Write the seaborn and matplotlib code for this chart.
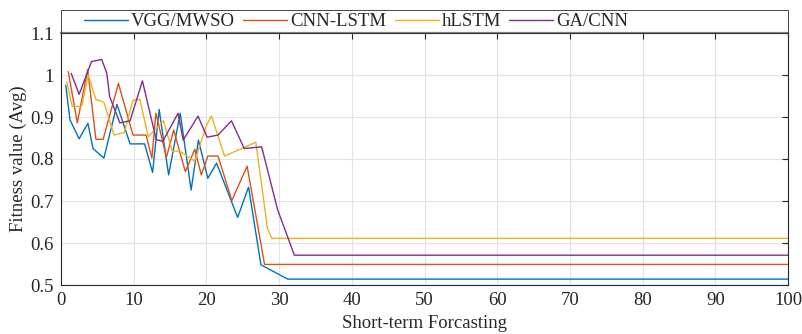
import numpy as np
import pandas as pd
import matplotlib
matplotlib.use("Agg")
import matplotlib.pyplot as plt
from matplotlib.patches import Rectangle
from matplotlib.ticker import FormatStrFormatter
import seaborn as sns

# ---- data ----
labels = ["VGG/MWSO", "CNN-LSTM", "hLSTM", "GA/CNN"]
colors = ["#0072BD", "#D95319", "#EDB120", "#7E2F8E"]

vgg_x = [0.65, 1.24, 2.5, 3.7, 4.4, 5.9, 7.7, 9.5, 11.5, 12.6, 13.5, 14.8, 16.4, 17.9,
         18.9, 20.2, 21.4, 24.3, 25.8, 27.5, 31.2, 100]
vgg_y = [0.976, 0.893, 0.848, 0.885, 0.825, 0.802, 0.930, 0.836, 0.836, 0.768, 0.918,
         0.762, 0.909, 0.726, 0.845, 0.754, 0.790, 0.661, 0.733, 0.548, 0.514, 0.514]

cnn_x = [1.0, 2.24, 3.67, 4.8, 5.8, 7.9, 9.9, 11.7, 12.5, 13.05, 14.5, 15.5, 17.1, 18.4,
         19.3, 20.2, 21.6, 23.5, 25.6, 28.0, 100]
cnn_y = [1.008, 0.886, 1.013, 0.847, 0.847, 0.980, 0.857, 0.857, 0.802, 0.909, 0.804,
         0.869, 0.770, 0.823, 0.762, 0.807, 0.807, 0.701, 0.783, 0.549, 0.549]

hl_x = [0.78, 1.55, 2.84, 3.75, 4.8, 5.9, 7.3, 8.7, 9.9, 10.85, 12.0, 14.1, 15.3, 16.3,
        18.4, 20.0, 20.7, 22.5, 26.8, 28.4, 29.0, 100]
hl_y = [0.984, 0.925, 0.925, 1.0, 0.942, 0.935, 0.857, 0.863, 0.940, 0.942, 0.853, 0.891,
        0.819, 0.819, 0.795, 0.880, 0.902, 0.807, 0.840, 0.635, 0.611, 0.611]

ga_x = [1.4, 2.5, 4.2, 5.6, 6.3, 6.7, 8.1, 9.5, 11.2, 13.1, 14.0, 16.1, 16.8, 18.85,
        20.1, 21.6, 23.45, 25.2, 27.6, 29.8, 32.1, 100]
ga_y = [1.004, 0.954, 1.032, 1.037, 1.004, 0.948, 0.886, 0.891, 0.986, 0.846, 0.842,
        0.909, 0.845, 0.902, 0.852, 0.857, 0.891, 0.825, 0.829, 0.679, 0.571, 0.571]

x_ticks = list(range(0, 101, 10))
y_ticks = [0.5, 0.6, 0.7, 0.8, 0.9, 1.0, 1.1]
x_label = "Short-term Forcasting"
y_label = "Fitness value (Avg)"

# ---- build long table ----
frames = []
for lab, xs, ys in zip(labels, [vgg_x, cnn_x, hl_x, ga_x], [vgg_y, cnn_y, hl_y, ga_y]):
    frames.append(pd.DataFrame({"x": xs, "y": ys, "model": lab}))
df = pd.concat(frames, ignore_index=True)

sns.set_theme(style="white")
plt.rcParams["font.family"] = ["Liberation Serif", "DejaVu Serif"]

fig = plt.figure(figsize=(8.02, 3.34), dpi=100)
ax = fig.add_axes([61 / 802, 1 - 285 / 334, 727 / 802, 252 / 334])

sns.lineplot(data=df, x="x", y="y", hue="model", palette=dict(zip(labels, colors)),
             hue_order=labels, estimator=None, sort=False, units="model",
             linewidth=1.0, ax=ax, legend=True)
handles, labs = ax.get_legend_handles_labels()
ax.get_legend().remove()

ax.set_xlim(0, 100)
ax.set_ylim(0.5, 1.1)
ax.set_xticks(x_ticks)
ax.set_yticks(y_ticks)
ax.yaxis.set_major_formatter(FormatStrFormatter("%g"))
ax.grid(True, color="#e3e3e3", linewidth=0.8)
ax.set_axisbelow(True)

fs = 13.5
ax.tick_params(direction="in", top=True, right=True, length=4.5, width=0.8,
               colors="#262626", labelsize=fs, pad=5, labelcolor="#262626")
for side in ["left", "bottom", "right"]:
    ax.spines[side].set_color("#262626")
    ax.spines[side].set_linewidth(0.8)
ax.spines["top"].set_color("#808080")
ax.spines["top"].set_linewidth(1.6)

ax.set_xlabel(x_label, fontsize=fs, color="#262626")
ax.xaxis.set_label_coords(0.5, -0.118)
ax.xaxis.label.set_va("top")
ax.set_ylabel(y_label, fontsize=fs, color="#262626")
ax.yaxis.set_label_coords(-0.059, 0.5)
ax.yaxis.label.set_va("center")

# legend box above the axes
fig.add_artist(Rectangle((61 / 802, 1 - 33 / 334), 727 / 802, 23 / 334,
                         transform=fig.transFigure, fill=False,
                         edgecolor="#262626", linewidth=0.6))
fig.legend(handles, labs, loc="center left", bbox_to_anchor=(84 / 802, 1 - 21.5 / 334),
           frameon=False, ncol=4, handlelength=2.35, handletextpad=0.15,
           columnspacing=0.45, borderaxespad=0, borderpad=0,
           prop={"size": fs}, labelcolor="#262626")

fig.savefig("out.png", dpi=100)
